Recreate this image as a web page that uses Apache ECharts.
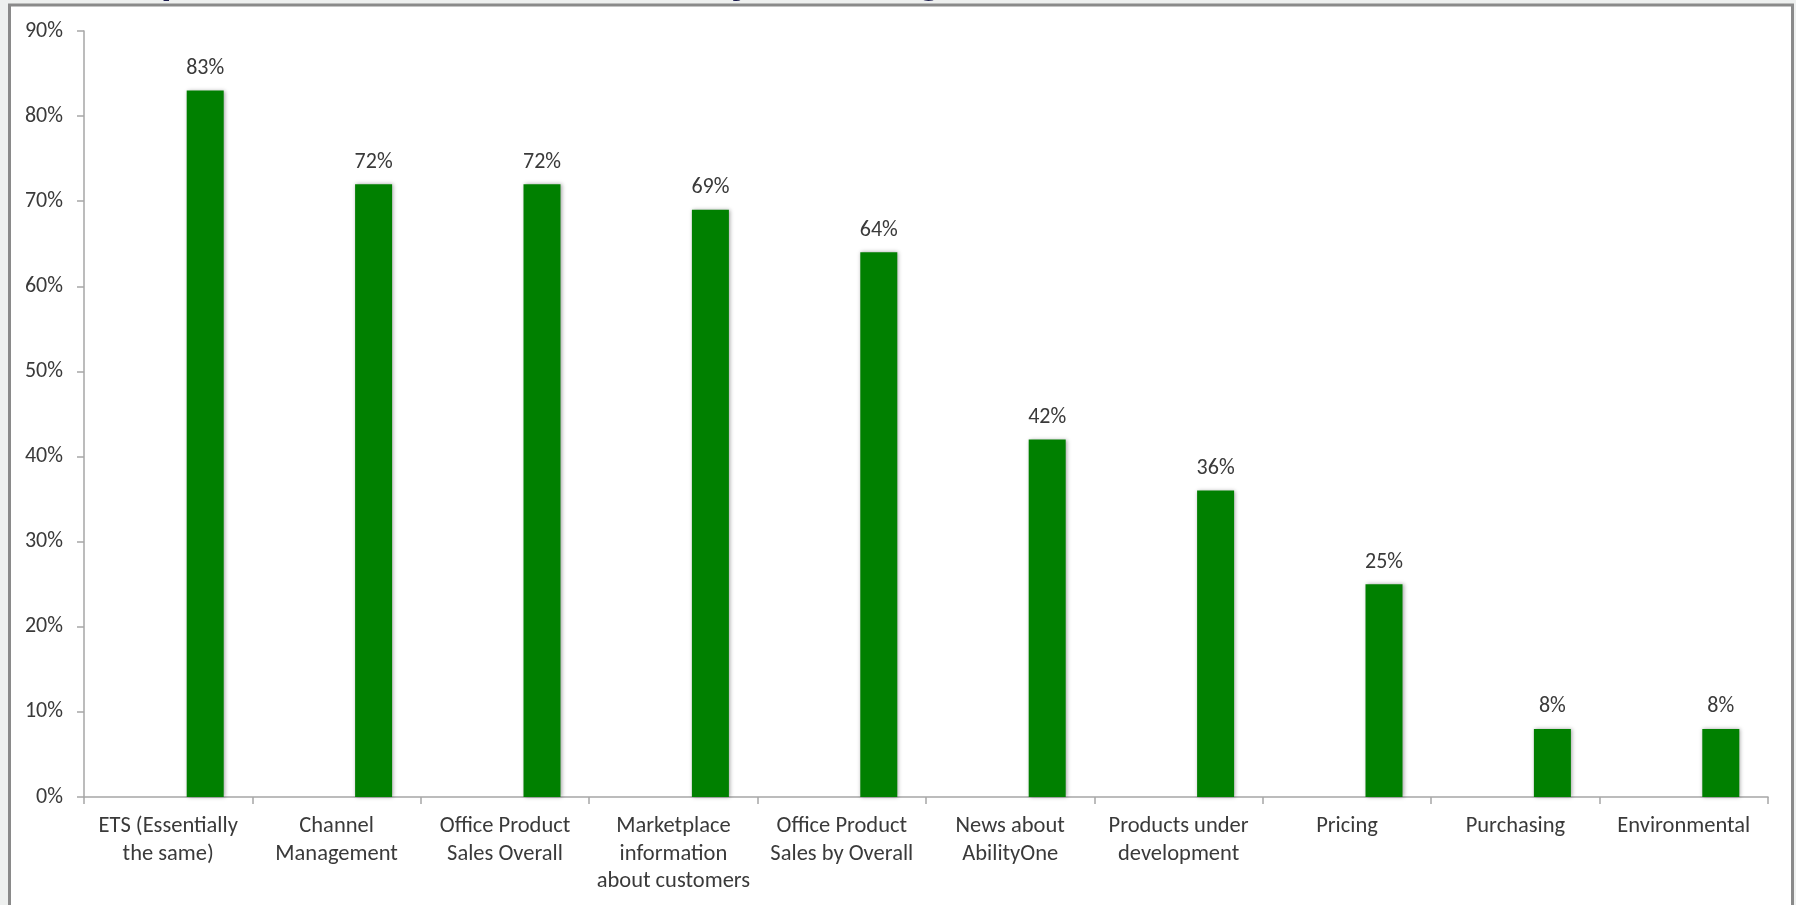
<!DOCTYPE html>
<html>
<head>
<meta charset="utf-8">
<style>
  html, body { margin: 0; padding: 0; background: #eef0ef; }
  #chart { width: 1796px; height: 905px; }
</style>
<script src="https://cdn.jsdelivr.net/npm/echarts@6/dist/echarts.min.js"></script>
</head>
<body>
<div id="chart"></div>
<script>
const categories = [
  'ETS (Essentially\nthe same)',
  'Channel\nManagement',
  'Office Product\nSales Overall',
  'Marketplace\ninformation\nabout customers',
  'Office Product\nSales by Overall',
  'News about\nAbilityOne',
  'Products under\ndevelopment',
  'Pricing',
  'Purchasing',
  'Environmental'
];
const values = [83, 72, 72, 69, 64, 42, 36, 25, 8, 8];
const spacer = [null, null, null, null, null, null, null, null, null, null];
const yTicks = { min: 0, max: 90, interval: 10 };

const FONT = 'Carlito, Calibri, "Liberation Sans", Arial, sans-serif';
const TXT = '#3a3a3a';
const AX = '#a6a6a6';

const chart = echarts.init(document.getElementById('chart'), null, { renderer: 'canvas' });
chart.setOption({
  backgroundColor: '#eef0ef',
  animation: false,
  graphic: [
    { type: 'text', z: -20, x: 173, y: 2, style: { text: 'p', fill: '#1b1b4d', font: 'bold 40px "Liberation Sans", Arial', align: 'center', verticalAlign: 'bottom' } },
    { type: 'text', z: -20, x: 742, y: 2, style: { text: 'y', fill: '#1b1b4d', font: 'bold 40px "Liberation Sans", Arial', align: 'center', verticalAlign: 'bottom' } },
    { type: 'text', z: -20, x: 929, y: 2, style: { text: 'g', fill: '#1b1b4d', font: 'bold 40px "Liberation Sans", Arial', align: 'center', verticalAlign: 'bottom' } },
    { type: 'rect', z: -10, shape: { x: 9.5, y: 5, width: 1783, height: 930 }, style: { fill: '#ffffff', stroke: '#8a8a8a', lineWidth: 3 } }
  ],
  grid: { left: 84, right: 28, top: 31, bottom: 108, containLabel: false },
  xAxis: {
    type: 'category',
    data: categories,
    boundaryGap: true,
    axisLine: { lineStyle: { color: AX, width: 1.5 } },
    axisTick: { show: true, alignWithLabel: false, length: 7, lineStyle: { color: AX, width: 1.5 } },
    axisLabel: {
      interval: 0, margin: 16, color: TXT, fontFamily: FONT, fontSize: 22.5, lineHeight: 27.5
    },
    splitLine: { show: false }
  },
  yAxis: {
    type: 'value',
    min: yTicks.min, max: yTicks.max, interval: yTicks.interval,
    axisLine: { show: true, lineStyle: { color: AX, width: 1.5 } },
    axisTick: { show: true, length: 7, lineStyle: { color: AX, width: 1.5 } },
    axisLabel: { formatter: '{value}%', margin: 21, color: TXT, fontFamily: FONT, fontSize: 22 },
    splitLine: { show: false }
  },
  series: [
    { type: 'bar', name: 'spacer', data: spacer, barWidth: 37, barGap: '100%', silent: true },
    {
      type: 'bar', name: 'Share', data: values, barWidth: 37, barGap: '100%',
      itemStyle: { color: '#008000', shadowColor: 'rgba(0,0,0,0.35)', shadowBlur: 4, shadowOffsetX: 1, shadowOffsetY: 0 },
      label: {
        show: true, position: 'top', distance: 11, formatter: '{c}%',
        color: TXT, fontFamily: FONT, fontSize: 22
      }
    }
  ]
});
</script>
</body>
</html>
